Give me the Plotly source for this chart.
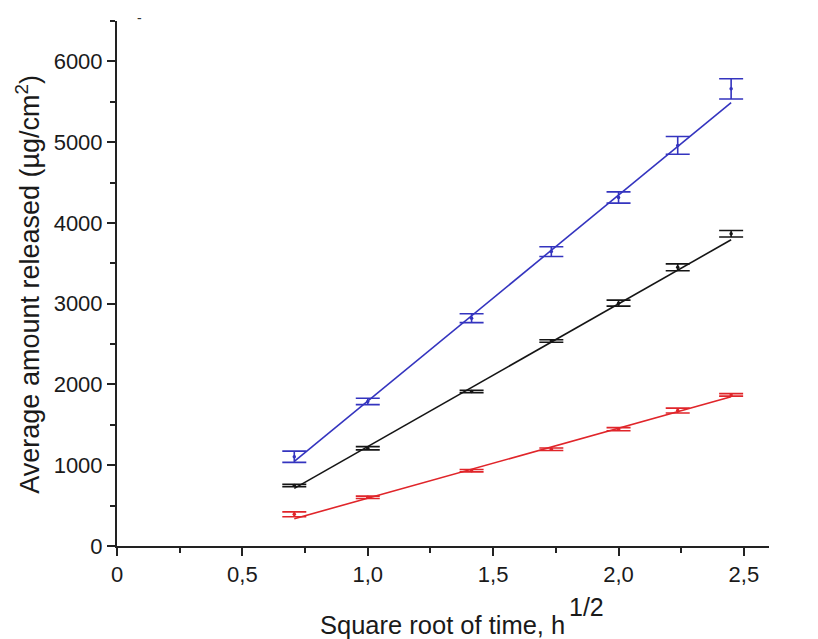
import numpy as np
import plotly.graph_objects as go

# Square root of sampling time (h^1/2)
sqrt_time = [0.707, 1.0, 1.414, 1.732, 2.0, 2.236, 2.449]

# Average amount released (µg/cm²) and standard deviations per formulation
rel_75 = [1105, 1790, 2820, 3645, 4315, 4960, 5660]
err_75 = [70, 40, 55, 60, 70, 110, 125]

rel_50 = [748, 1210, 1912, 2538, 3007, 3450, 3866]
err_50 = [15, 20, 15, 15, 37, 43, 41]

rel_25 = [393, 603, 933, 1198, 1446, 1677, 1871]
err_25 = [30, 15, 15, 15, 20, 30, 15]

series_names = ["7,5 %", "5,0 %", "2,5 %"]
series_colors = ["#3434bf", "#151515", "#e0252a"]
label_y = [6090, 4180, 2300]

x_tick_vals = [0, 0.5, 1.0, 1.5, 2.0, 2.5]
x_tick_text = ["0", "0,5", "1,0", "1,5", "2,0", "2,5"]

FONT = "Liberation Sans, Arial, sans-serif"
TXT = "#1a1a1a"

fig = go.Figure()

for name, color, yv, ev, ly in zip(series_names, series_colors,
                                   [rel_75, rel_50, rel_25],
                                   [err_75, err_50, err_25], label_y):
    x = np.array(sqrt_time)
    y = np.array(yv, dtype=float)
    e = np.array(ev, dtype=float)
    # weighted linear fit (Higuchi model), weights = 1/sigma
    slope, intercept = np.polyfit(x, y, 1, w=1.0 / e)
    fx = np.array([x[0], x[-1]])
    fig.add_trace(go.Scatter(
        x=fx, y=slope * fx + intercept, mode="lines",
        line=dict(color=color, width=1.6), showlegend=False, hoverinfo="skip"))
    fig.add_trace(go.Scatter(
        x=x, y=y, mode="markers",
        marker=dict(color=color, size=3.5),
        error_y=dict(type="data", array=e, visible=True, color=color,
                     thickness=1.6, width=12),
        showlegend=False, name=name))
    fig.add_annotation(x=2.64, y=ly, xref="x", yref="y", text=name,
                       showarrow=False, xanchor="center", yanchor="middle",
                       font=dict(family=FONT, size=25, color=TXT))

# x axis title, with a full-size raised exponent
fig.add_annotation(
    x=0.690, y=-0.150, xref="paper", yref="paper", showarrow=False,
    xanchor="right", yanchor="middle", text="Square root of time, h",
    font=dict(family=FONT, size=25.5, color=TXT))
fig.add_annotation(
    x=0.690, y=-0.117, xref="paper", yref="paper", showarrow=False,
    xanchor="left", yanchor="middle", text="1/2",
    font=dict(family=FONT, size=25, color=TXT))

# y axis title
fig.add_annotation(
    x=-0.137, y=0.499, xref="paper", yref="paper", showarrow=False,
    textangle=-90, xanchor="center", yanchor="middle",
    text="Average amount released (µg/cm<sup>2</sup>)",
    font=dict(family=FONT, size=27, color=TXT))
# small stray mark above the plot
fig.add_annotation(
    x=0.028, y=1.024, xref="paper", yref="paper", showarrow=False,
    text="-", font=dict(family=FONT, size=14, color="#333"))

axis_common = dict(
    showline=True, linecolor="#222", linewidth=2, ticks="outside",
    ticklen=8, tickwidth=2, tickcolor="#222", showgrid=False, zeroline=False,
    tickfont=dict(family=FONT, size=22, color=TXT),
)
fig.update_xaxes(range=[0, 2.6], tickmode="array", tickvals=x_tick_vals,
                 ticktext=x_tick_text,
                 minor=dict(dtick=0.25, ticks="outside", ticklen=5,
                            tickwidth=2, tickcolor="#222"),
                 **axis_common)
fig.update_yaxes(range=[0, 6500], dtick=1000, tick0=0,
                 minor=dict(dtick=500, ticks="outside", ticklen=5,
                            tickwidth=2, tickcolor="#222"),
                 **axis_common)

fig.update_layout(
    width=818, height=639, margin=dict(l=117, r=49, t=21, b=93),
    plot_bgcolor="white", paper_bgcolor="white",
    font=dict(family=FONT), showlegend=False,
)

fig.write_html("out.html")
